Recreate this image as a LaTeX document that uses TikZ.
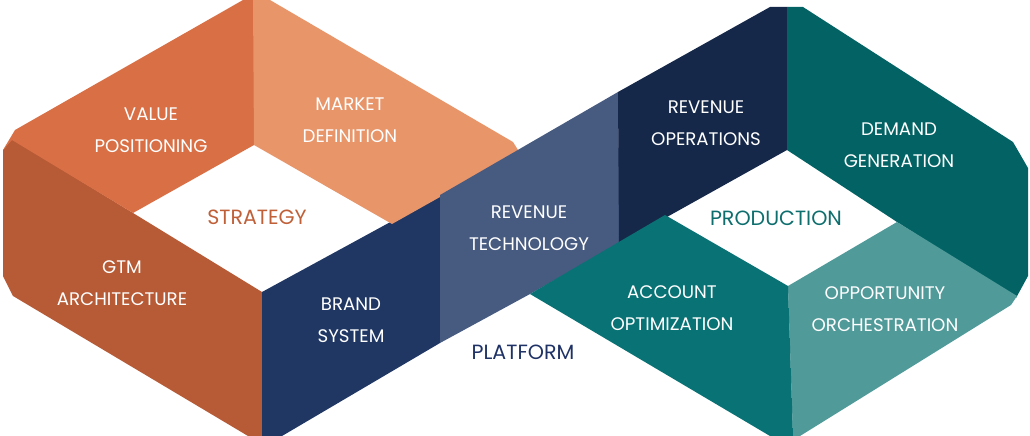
\documentclass[tikz,border=0pt]{standalone}
\usepackage{fontspec}
\setmainfont{Poppins}
\definecolor{cVP}{HTML}{D86F45}
\definecolor{cMD}{HTML}{E8956A}
\definecolor{cGTM}{HTML}{B75A36}
\definecolor{cBR}{HTML}{203764}
\definecolor{cRT}{HTML}{475A80}
\definecolor{cRO}{HTML}{162849}
\definecolor{cDG}{HTML}{036364}
\definecolor{cAO}{HTML}{087274}
\definecolor{cOO}{HTML}{519A9A}
\definecolor{tST}{HTML}{BF6038}
\definecolor{tPR}{HTML}{0E6E6E}
\definecolor{tPL}{HTML}{1F3266}
\tikzset{
  lbl/.style={text=white, font=\fontsize{18.2}{32}\selectfont, align=center, inner sep=0pt},
  big/.style={font=\fontsize{20.6}{22}\selectfont, inner sep=0pt}
}
\begin{document}
\begin{tikzpicture}[x=1pt,y=-1pt]
\useasboundingbox (0,0) rectangle (1030,436);
% left loop
\fill[cGTM] (12,139) -- (133,213) -- (262,292) -- (263,436) -- (248,436) -- (13,296) -- (3,276) -- (3,150) -- cycle;
\fill[cVP] (15,130) -- (243,0) -- (254,0) -- (254,145) -- (133,213) -- (12,140) -- (3,150) -- cycle;
\fill[cBR] (262,292) -- (440,195) -- (440,343) -- (282,436) -- (262,436) -- cycle;
\fill[cMD] (253,0) -- (270,0) -- (513,142) -- (518,150) -- (440,197) -- (392,224) -- (254,145) -- cycle;
% middle
\fill[cRT] (440,195) -- (618,92) -- (620,243) -- (530,294) -- (440,343) -- cycle;
\fill[cRO] (618,92) -- (770,7) -- (787,7) -- (787,150) -- (658,222) -- (619,244) -- cycle;
% right loop
\fill[cDG] (787,7) -- (803,7) -- (1013,142) -- (1028,168) -- (1028,276) -- (1016,298) -- (897,222) -- (787,150) -- cycle;
\fill[cOO] (788,286) -- (897,222) -- (1017,296) -- (1011,305) -- (800,436) -- (793,436) -- cycle;
\fill[cAO] (530,294) -- (665,215) -- (788,286) -- (793,436) -- (770,436) -- cycle;
% labels
\node[lbl] (vp) at (151,130) {VALUE\\POSITIONING};
\node[lbl] (md) at (350,120) {MARKET\\DEFINITION};
\node[lbl] (gtm) at (122,283) {GTM\\ARCHITECTURE};
\node[lbl] (br) at (351,320) {BRAND\\SYSTEM};
\node[lbl] (rt) at (529,228) {REVENUE\\TECHNOLOGY};
\node[lbl] (ro) at (706,123) {REVENUE\\OPERATIONS};
\node[lbl] (dg) at (899,145) {DEMAND\\GENERATION};
\node[lbl] (ao) at (672,308) {ACCOUNT\\OPTIMIZATION};
\node[lbl] (oo) at (885,309) {OPPORTUNITY\\ORCHESTRATION};
\node[big, text=tST] (st) at (257,217) {STRATEGY};
\node[big, text=tPR] (pr) at (776,218) {PRODUCTION};
\node[big, text=tPL] (pl) at (523,352) {PLATFORM};
\end{tikzpicture}
\end{document}
